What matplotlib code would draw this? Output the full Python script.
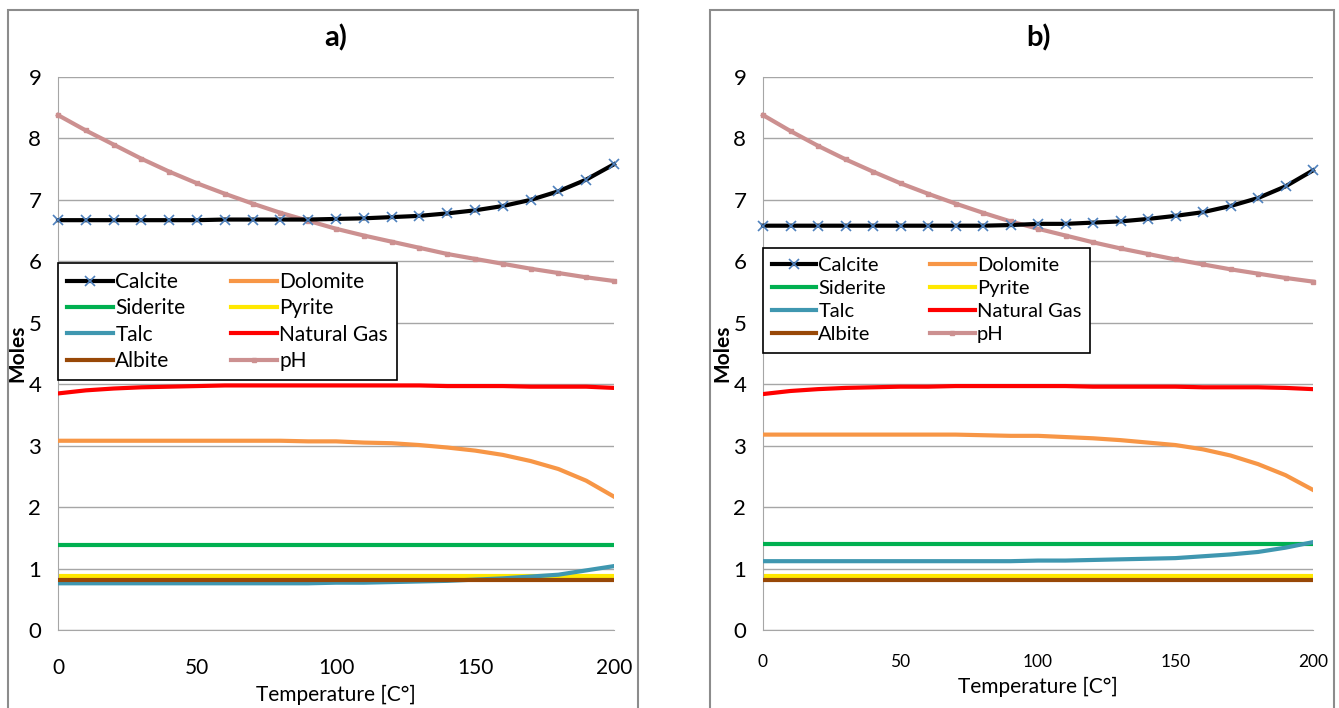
import numpy as np
import matplotlib.pyplot as plt
from matplotlib.patches import Rectangle

plt.rcParams["font.family"] = ["Lato", "DejaVu Sans"]

# Temperature steps
temp = list(range(0, 201, 10))

# Panel a)
calcite_a = [6.67, 6.67, 6.67, 6.67, 6.67, 6.67, 6.68, 6.68, 6.68, 6.68, 6.69,
             6.70, 6.72, 6.74, 6.78, 6.83, 6.90, 7.00, 7.14, 7.33, 7.58]
dolomite_a = [3.08, 3.08, 3.08, 3.08, 3.08, 3.08, 3.08, 3.08, 3.08, 3.07, 3.07,
              3.05, 3.04, 3.01, 2.97, 2.92, 2.85, 2.75, 2.62, 2.43, 2.17]
siderite_a = [1.38] * 21
pyrite_a = [0.88] * 21
talc_a = [0.76, 0.76, 0.76, 0.76, 0.76, 0.76, 0.76, 0.76, 0.76, 0.76, 0.77,
          0.77, 0.78, 0.79, 0.80, 0.82, 0.84, 0.87, 0.90, 0.97, 1.04]
gas_a = [3.85, 3.90, 3.93, 3.95, 3.96, 3.97, 3.98, 3.98, 3.98, 3.98, 3.98,
         3.98, 3.98, 3.98, 3.97, 3.97, 3.97, 3.96, 3.96, 3.96, 3.94]
albite_a = [0.82] * 21
ph_a = [8.38, 8.13, 7.90, 7.67, 7.46, 7.27, 7.10, 6.94, 6.79, 6.66, 6.53,
        6.42, 6.32, 6.22, 6.12, 6.04, 5.96, 5.88, 5.81, 5.74, 5.68]

# Panel b)
calcite_b = [6.58, 6.58, 6.58, 6.58, 6.58, 6.58, 6.58, 6.58, 6.58, 6.59, 6.61,
             6.61, 6.63, 6.65, 6.69, 6.74, 6.80, 6.90, 7.03, 7.22, 7.48]
dolomite_b = [3.18, 3.18, 3.18, 3.18, 3.18, 3.18, 3.18, 3.18, 3.17, 3.16, 3.16,
              3.14, 3.12, 3.09, 3.05, 3.01, 2.94, 2.84, 2.70, 2.52, 2.28]
siderite_b = [1.40] * 21
pyrite_b = [0.88] * 21
talc_b = [1.12, 1.12, 1.12, 1.12, 1.12, 1.12, 1.12, 1.12, 1.12, 1.12, 1.13,
          1.13, 1.14, 1.15, 1.16, 1.17, 1.20, 1.23, 1.27, 1.34, 1.43]
gas_b = [3.84, 3.89, 3.92, 3.94, 3.95, 3.96, 3.96, 3.97, 3.97, 3.97, 3.97,
         3.97, 3.96, 3.96, 3.96, 3.96, 3.95, 3.95, 3.95, 3.94, 3.92]
albite_b = [0.82] * 21
ph_b = [8.38, 8.12, 7.88, 7.66, 7.46, 7.27, 7.10, 6.94, 6.79, 6.65, 6.53,
        6.42, 6.31, 6.21, 6.12, 6.03, 5.95, 5.87, 5.80, 5.73, 5.67]

colors = {
    "Calcite": "black",
    "Siderite": "#00B050",
    "Talc": "#3F97B0",
    "Albite": "#984807",
    "Dolomite": "#F79646",
    "Pyrite": "#FFE800",
    "Natural Gas": "#FF0000",
    "pH": "#CC9090",
}

fig = plt.figure(figsize=[13.39, 7.08], dpi=100)

# Chart area frames
for x0, x1 in [(8, 638), (710, 1334)]:
    fig.patches.append(Rectangle((x0 / 1339, -0.01), (x1 - x0) / 1339, 1 - 10 / 708 + 0.01,
                                 transform=fig.transFigure, fill=False,
                                 edgecolor="#8c8c8c", linewidth=1.5))


def draw(ax, title, series, legend_y, xtick_size, xpad, leg_size):
    order = ["Calcite", "Siderite", "Talc", "Albite", "Dolomite", "Pyrite", "Natural Gas", "pH"]
    z = {"Talc": 3, "Pyrite": 2, "Albite": 4, "Siderite": 3, "Dolomite": 3,
         "Natural Gas": 3, "pH": 5, "Calcite": 6}
    handles = {}
    for name in order:
        y = series[name]
        if name == "Calcite":
            h, = ax.plot(temp, y, color="black", linewidth=3, marker="x",
                         markersize=7, markeredgecolor="#4F81BD", markeredgewidth=1.2,
                         zorder=z[name], clip_on=False)
        elif name == "pH":
            h, = ax.plot(temp, y, color=colors[name], linewidth=3, marker="s",
                         markersize=3, zorder=z[name], clip_on=False)
        else:
            h, = ax.plot(temp, y, color=colors[name], linewidth=3, zorder=z[name])
        handles[name] = h
    ax.set_xlim(0, 200)
    ax.set_ylim(0, 9)
    ax.set_yticks(range(0, 10))
    ax.set_xticks([0, 50, 100, 150, 200])
    ax.grid(axis="y", color="#a6a6a6", linewidth=1)
    ax.set_axisbelow(True)
    for s in ["top", "right"]:
        ax.spines[s].set_visible(False)
    for s in ["left", "bottom"]:
        ax.spines[s].set_color("#a6a6a6")
    ax.tick_params(length=0)
    ax.tick_params(axis="y", labelsize=16, pad=12)
    ax.tick_params(axis="x", labelsize=xtick_size, pad=xpad)
    ax.set_title(title, fontsize=21, fontweight="bold", pad=22)
    ax.set_xlabel("Temperature [C°]", fontsize=15, labelpad=5)
    ax.set_ylabel("Moles", fontsize=15, fontweight="bold", labelpad=1)
    leg = ax.legend([handles[n] for n in order], order, ncol=2, loc="upper left",
                    bbox_to_anchor=(0, legend_y), borderaxespad=0, fontsize=leg_size,
                    frameon=True, fancybox=False, framealpha=1, edgecolor="black",
                    handlelength=2.2, handletextpad=0.1, columnspacing=2.2,
                    labelspacing=0.3, borderpad=0.45)
    leg.get_frame().set_linewidth(1.2)
    leg.set_zorder(10)


ax1 = fig.add_axes([58 / 1339, 1 - 630 / 708, 556 / 1339, 553 / 708])
ax2 = fig.add_axes([763 / 1339, 1 - 630 / 708, 550 / 1339, 553 / 708])

draw(ax1, "a)", {"Calcite": calcite_a, "Dolomite": dolomite_a, "Siderite": siderite_a,
                 "Pyrite": pyrite_a, "Talc": talc_a, "Natural Gas": gas_a,
                 "Albite": albite_a, "pH": ph_a}, 0.664, 15, 20, 15)
draw(ax2, "b)", {"Calcite": calcite_b, "Dolomite": dolomite_b, "Siderite": siderite_b,
                 "Pyrite": pyrite_b, "Talc": talc_b, "Natural Gas": gas_b,
                 "Albite": albite_b, "pH": ph_b}, 0.691, 12.5, 17, 14.5)

fig.savefig("out.png", dpi=100)
